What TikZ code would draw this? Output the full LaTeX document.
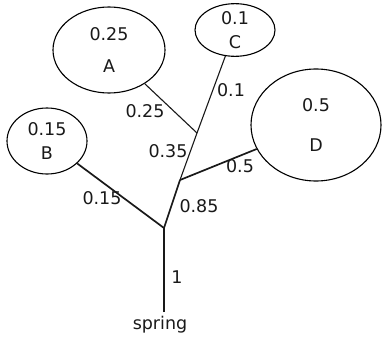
\documentclass[tikz,border=0pt]{standalone}
\usepackage{fontspec}
\setmainfont{DejaVu Sans}
\usetikzlibrary{shapes.geometric}
\begin{document}
\begin{tikzpicture}[x=1pt, y=1pt,
  every node/.style={font=\fontsize{17.5}{20}\selectfont, text=black!90},
  leaf/.style={ellipse, draw=black, line width=1.1pt, inner sep=0pt, align=center},
  thin/.style={black!90, line width=1.1pt},
  thick/.style={black!90, line width=1.7pt}]
\useasboundingbox (0,0) rectangle (382,338);
% leaves
\node[leaf, minimum width=112pt, minimum height=86pt] (A) at (109,288) {0.25\\[12pt]A};
\node[leaf, minimum width=80pt, minimum height=66pt] (B) at (47,197) {0.15\\[4pt]B};
\node[leaf, minimum width=80pt, minimum height=48pt] (C) at (235,308) {0.1\\[4pt]C};
\node[leaf, minimum width=130pt, minimum height=112pt] (D) at (316,213) {0.5\\[20pt]D};
% root and junctions
\node (spring) at (160,13) {spring};
\coordinate (s) at (164,26);
\coordinate (j1) at (164,110);
\coordinate (j2) at (180,158);
\coordinate (j3) at (197,205);
\draw[thin] (s) -- (j1);
\draw[thick] (j1) -- (B);
\draw[thick] (j1) -- (j2);
\draw[thick] (j2) -- (D);
\draw[thin] (j2) -- (j3);
\draw[thin] (j3) -- (A);
\draw[thin] (j3) -- (C);
% flows
\node (l1) at (177,61) {1};
\node (l15) at (102,140) {0.15};
\node (l85) at (199,132) {0.85};
\node (l5) at (240,172) {0.5};
\node (l35) at (168,187) {0.35};
\node (l25) at (145,227) {0.25};
\node (l10) at (231,248) {0.1};
\end{tikzpicture}
\end{document}
